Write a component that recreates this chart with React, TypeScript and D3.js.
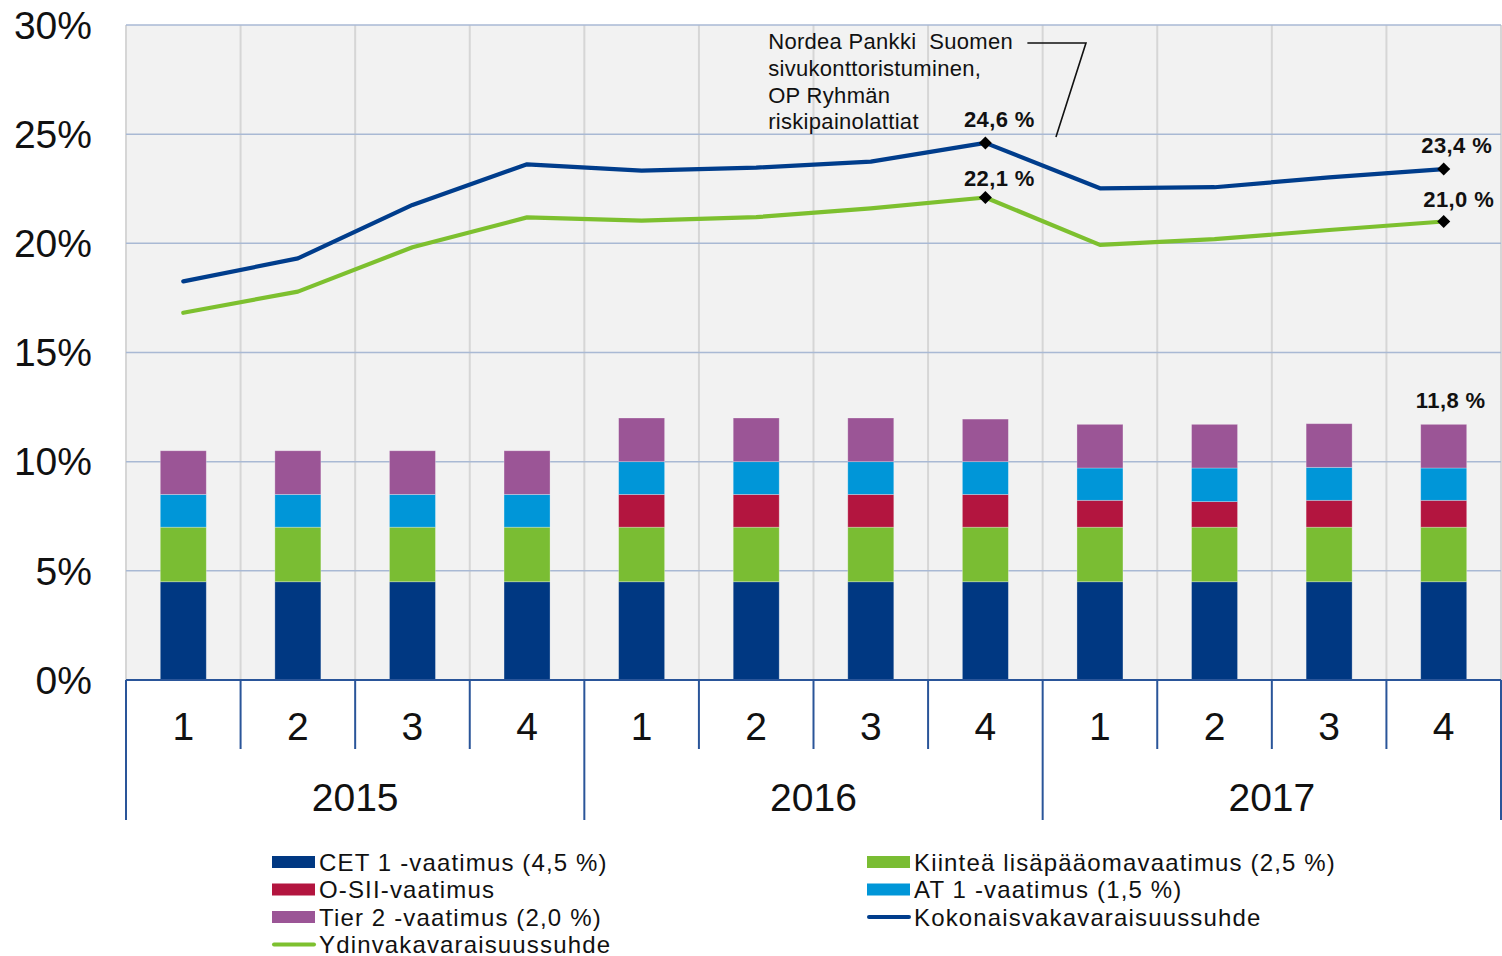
import React from 'react'
import { scaleLinear, scaleBand, stack, line, symbol, symbolSquare, range } from 'd3'

// quarters and years on the x axis
const quarters = ['1', '2', '3', '4', '1', '2', '3', '4', '1', '2', '3', '4']
const years = ['2015', '2016', '2017']

// stacked requirements (%)
const cet1 = [4.5, 4.5, 4.5, 4.5, 4.5, 4.5, 4.5, 4.5, 4.5, 4.5, 4.5, 4.5]
const kiintea = [2.5, 2.5, 2.5, 2.5, 2.5, 2.5, 2.5, 2.5, 2.5, 2.5, 2.5, 2.5]
const osii = [0, 0, 0, 0, 1.5, 1.5, 1.5, 1.5, 1.23, 1.17, 1.23, 1.23]
const at1 = [1.5, 1.5, 1.5, 1.5, 1.5, 1.5, 1.5, 1.5, 1.48, 1.54, 1.51, 1.48]
const tier2 = [2.0, 2.0, 2.0, 2.0, 2.0, 2.0, 2.0, 1.95, 2.0, 2.0, 2.0, 2.0]

// ratios (%)
const kokonais = [18.26, 19.31, 21.76, 23.62, 23.33, 23.47, 23.74, 24.6, 22.52, 22.57, 23.02, 23.4]
const ydin = [16.82, 17.79, 19.82, 21.19, 21.04, 21.2, 21.6, 22.1, 19.93, 20.19, 20.61, 21.0]

const yTicks = [0, 5, 10, 15, 20, 25, 30]

const barKeys = ['cet1', 'kiintea', 'osii', 'at1', 'tier2']
const barColors = {
  cet1: '#003882',
  kiintea: '#7abd33',
  osii: '#b3153f',
  at1: '#0096d8',
  tier2: '#9b5596',
}
const blueLine = '#003d8c'
const greenLine = '#7dc02f'

const font = '"Liberation Sans", Arial, sans-serif'

const App = () => {
  const width = 1502
  const height = 956
  const left = 126
  const right = 1501
  const top = 25
  const bottom = 680

  const xscale = scaleBand().domain(range(quarters.length)).range([left, right])
  const step = xscale.step()
  const cx = i => xscale(i) + step / 2
  const yscale = scaleLinear().domain([0, 30]).range([bottom, top])

  const rows = quarters.map((q, i) => ({
    cet1: cet1[i], kiintea: kiintea[i], osii: osii[i], at1: at1[i], tier2: tier2[i],
  }))
  const series = stack().keys(barKeys)(rows)
  const barW = 46

  const lineGen = line().x((d, i) => cx(i)).y(d => yscale(d))
  const diamond = symbol().type(symbolSquare).size(85)()

  const total = rows.map(r => r.cet1 + r.kiintea + r.osii + r.at1 + r.tier2)

  const labels = [
    { i: 7, v: kokonais[7], text: '24,6 %', dx: 14, dy: -16 },
    { i: 7, v: ydin[7], text: '22,1 %', dx: 14, dy: -11 },
    { i: 11, v: kokonais[11], text: '23,4 %', dx: 13, dy: -16 },
    { i: 11, v: ydin[11], text: '21,0 %', dx: 15, dy: -15 },
    { i: 11, v: total[11], text: '11,8 %', dx: 7, dy: -16 },
  ]
  const markers = [
    { i: 7, v: kokonais[7] }, { i: 7, v: ydin[7] },
    { i: 11, v: kokonais[11] }, { i: 11, v: ydin[11] },
  ]

  const noteX = cx(5) + 12
  const noteLines = ['Nordea Pankki  Suomen', 'sivukonttoristuminen,', 'OP Ryhmän', 'riskipainolattiat']

  const legendLeft = [
    { key: 'cet1', text: 'CET 1 -vaatimus (4,5 %)' },
    { key: 'osii', text: 'O-SII-vaatimus' },
    { key: 'tier2', text: 'Tier 2 -vaatimus (2,0 %)' },
    { key: 'ydin', text: 'Ydinvakavaraisuussuhde', line: greenLine },
  ]
  const legendRight = [
    { key: 'kiintea', text: 'Kiinteä lisäpääomavaatimus (2,5 %)' },
    { key: 'at1', text: 'AT 1 -vaatimus (1,5 %)' },
    { key: 'kokonais', text: 'Kokonaisvakavaraisuussuhde', line: blueLine },
  ]

  const legendItem = (d, i, x0) => {
    const y = 862 + i * 27.5
    return (
      <g key={d.key}>
        {d.line
          ? <line x1={x0 + 2} x2={x0 + 42} y1={y} y2={y} stroke={d.line} strokeWidth={4} strokeLinecap='round' />
          : <rect x={x0} y={y - 6} width={43} height={12} fill={barColors[d.key]} />}
        <text x={x0 + 47} y={y + 8.5} fontSize={24} letterSpacing={1.15} fill='#111'>{d.text}</text>
      </g>
    )
  }

  return (
    <svg width={width} height={height} viewBox={`0 0 ${width} ${height}`}
      style={{ position: 'fixed', left: 0, top: 0, background: '#fff', fontFamily: font }}>
      <rect x={left} y={top} width={right - left} height={bottom - top} fill='#f2f2f2' />

      {range(0, quarters.length + 1).map(i => (
        <line key={'v' + i} x1={left + i * step} x2={left + i * step} y1={top} y2={bottom}
          stroke='#d6d6d6' strokeWidth={2} />
      ))}
      {yTicks.filter(t => t > 0).map(t => (
        <line key={'h' + t} x1={left} x2={right} y1={yscale(t)} y2={yscale(t)} stroke='#a9b9d4' strokeWidth={1.5} />
      ))}

      {series.map(s => (
        <g key={s.key} fill={barColors[s.key]}>
          {s.map((d, i) => d[1] - d[0] > 0 && (
            <rect key={i} x={cx(i) - barW / 2} y={yscale(d[1])} width={barW}
              height={yscale(d[0]) - yscale(d[1])} stroke='#ffffff' strokeOpacity={0.35} strokeWidth={0.8} />
          ))}
        </g>
      ))}

      <path d={lineGen(ydin)} fill='none' stroke={greenLine} strokeWidth={4.2} strokeLinejoin='round' strokeLinecap='round' />
      <path d={lineGen(kokonais)} fill='none' stroke={blueLine} strokeWidth={4.2} strokeLinejoin='round' strokeLinecap='round' />

      {markers.map((m, k) => (
        <path key={k} d={diamond} transform={`translate(${cx(m.i)},${yscale(m.v)}) rotate(45)`} fill='#000' />
      ))}
      {labels.map((l, k) => (
        <text key={k} x={cx(l.i) + l.dx} y={yscale(l.v) + l.dy} textAnchor='middle'
          fontSize={22} fontWeight='bold' letterSpacing={0.4} fill='#111'>{l.text}</text>
      ))}

      <g fontSize={22} letterSpacing={0.3} fill='#111'>
        {noteLines.map((t, k) => (
          <text key={k} x={noteX} y={49 + k * 26.8} style={{ whiteSpace: 'pre' }}>{t}</text>
        ))}
      </g>
      <polyline points={`${cx(7) + 42},43 ${cx(8) - 14},43 ${cx(8) - 44},137`} fill='none' stroke='#111' strokeWidth={1.6} />

      {yTicks.map(t => (
        <text key={'yl' + t} x={92} y={yscale(t) + 13.8} textAnchor='end' fontSize={39} fill='#111'>{t}%</text>
      ))}

      <line x1={left} x2={right} y1={bottom} y2={bottom} stroke='#2a5599' strokeWidth={2} />
      {range(0, quarters.length + 1).map(i => (
        <line key={'t' + i} x1={left + i * step} x2={left + i * step} y1={bottom}
          y2={i % 4 === 0 ? 820 : 749} stroke='#2a5599' strokeWidth={2} />
      ))}
      {quarters.map((q, i) => (
        <text key={'q' + i} x={cx(i)} y={740} textAnchor='middle' fontSize={39} fill='#111'>{q}</text>
      ))}
      {years.map((yr, k) => (
        <text key={yr} x={left + (k * 4 + 2) * step} y={811} textAnchor='middle' fontSize={39} fill='#111'>{yr}</text>
      ))}

      {legendLeft.map((d, i) => legendItem(d, i, 272))}
      {legendRight.map((d, i) => legendItem(d, i, 867))}
    </svg>
  )
}

export default App
